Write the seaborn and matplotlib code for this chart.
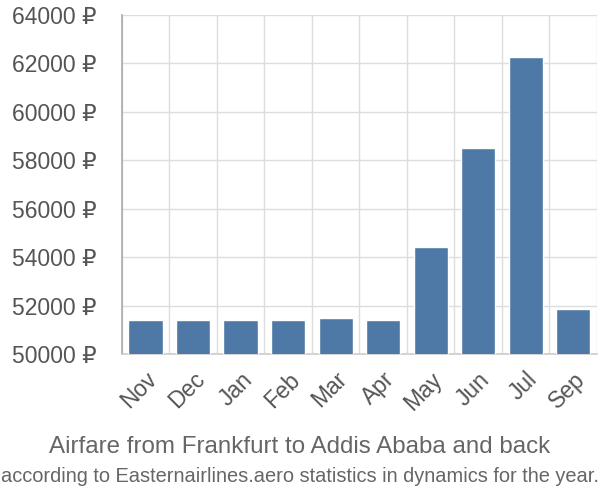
import matplotlib
matplotlib.use("Agg")
import matplotlib.pyplot as plt
import seaborn as sns
import pandas as pd
import numpy as np

months = ["Nov", "Dec", "Jan", "Feb", "Mar", "Apr", "May", "Jun", "Jul", "Sep"]
prices = [51400, 51400, 51400, 51400, 51500, 51400, 54400, 58500, 62250, 51870]
yticks = [50000, 52000, 54000, 56000, 58000, 60000, 62000, 64000]
title = "Airfare from Frankfurt to Addis Ababa and back"
subtitle = "according to Easternairlines.aero statistics in dynamics for the year."

sns.set_theme(style="white")
plt.rcParams['font.family'] = ['Liberation Sans', 'DejaVu Sans']

df = pd.DataFrame({"month": months, "price": prices})

fig = plt.figure(figsize=(6, 5), dpi=100)
ax = fig.add_axes([0.203, 0.292, 0.792, 0.678])

sns.barplot(data=df, x="month", y="price", color="#4e79a7", saturation=1,
            width=0.72, ax=ax, zorder=3)

ax.set_ylim(50000, 64000)
ax.set_xlim(-0.5, len(months) - 0.5)
ax.set_yticks(yticks)
ax.set_yticklabels([f"{v} ₽" for v in yticks], fontsize=16.5, color="#555555")
ax.tick_params(axis="y", length=16, width=1, color="#dddddd", pad=2)

ax.set_xticks(range(len(months)))
ax.set_xticklabels(months, rotation=45, ha="right", rotation_mode="anchor",
                   fontsize=16.5, color="#555555")
ax.tick_params(axis="x", length=0, pad=10)
ax.set_xticks(np.arange(-0.5, len(months), 1), minor=True)
ax.tick_params(axis="x", which="minor", length=15, width=1, color="#dddddd")

ax.grid(True, axis="y", color="#dddddd", linewidth=1, zorder=0)
ax.grid(True, axis="x", which="minor", color="#dddddd", linewidth=1, zorder=0)
ax.grid(False, axis="x", which="major")
ax.set_axisbelow(True)

for s in ["top", "right"]:
    ax.spines[s].set_visible(False)
ax.spines["left"].set_color("#aaaaaa")
ax.spines["left"].set_linewidth(1.2)
ax.spines["bottom"].set_color("#cccccc")
ax.spines["bottom"].set_linewidth(1.2)

ax.set_xlabel("")
ax.set_ylabel("")

fig.text(0.5, 0.106, title, ha="center", va="center", fontsize=17.4, color="#666666")
fig.text(0.5, 0.046, subtitle, ha="center", va="center", fontsize=14.4, color="#666666")

fig.savefig("out.png", dpi=100)
